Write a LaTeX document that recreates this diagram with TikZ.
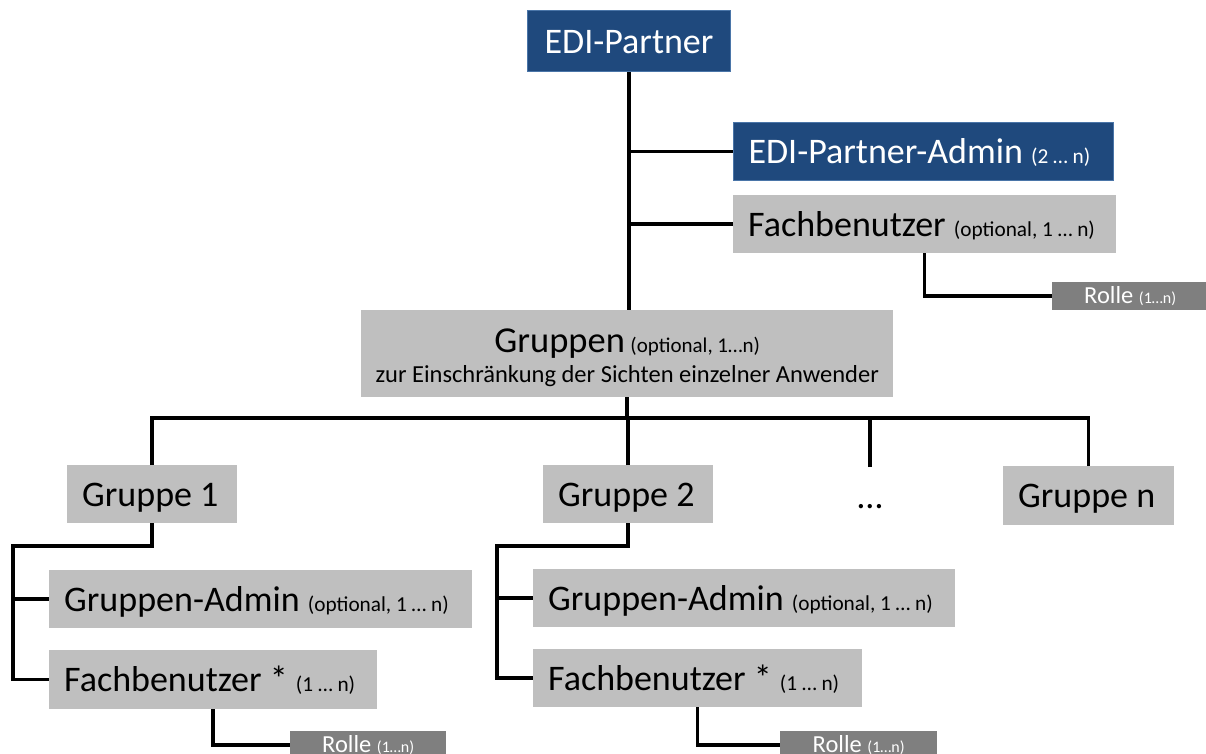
\documentclass[tikz,border=0pt]{standalone}
\usepackage{fontspec}
\setmainfont{Carlito}
\definecolor{ediblue}{HTML}{1F497D}
\definecolor{edirand}{HTML}{4A75A8}
\definecolor{boxgrey}{HTML}{BFBFBF}
\definecolor{rolegrey}{HTML}{7F7F7F}
\newcommand{\anz}[1]{{\fontsize{21.3}{23}\selectfont #1}}
\newcommand{\rollanz}[1]{{\fontsize{16}{18}\selectfont #1}}
\tikzset{
    conn/.style={line width=3.5pt, black},
    box/.style={anchor=north west, inner xsep=15pt, inner ysep=0pt,
        text height=28pt, text depth=4pt,
        font=\fontsize{36}{40}\selectfont, align=flush left},
    bluebox/.style={box, fill=ediblue, draw=edirand, line width=1pt, text=white},
    greybox/.style={box, fill=boxgrey},
    rolebox/.style={anchor=north west, fill=rolegrey, text=white, inner sep=0pt,
        text height=17pt, text depth=3pt,
        minimum width=156pt, minimum height=28pt, font=\fontsize{24.5}{26}\selectfont},
}
\begin{document}
\begin{tikzpicture}[x=1pt, y=-1pt]
    \useasboundingbox (0,0) rectangle (1206,753);

    % EDI-Partner
    \node[bluebox, text width=173pt, align=flush center, minimum height=61pt] (partner) at (527,10) {EDI-Partner};
    \node[bluebox, text width=350pt, minimum height=58pt] (admin) at (733,122) {\mbox{EDI-Partner-Admin \anz{(2 … n)}}};
    \node[greybox, text width=353pt, minimum height=58pt] (fach) at (733,195) {\mbox{Fachbenutzer \anz{(optional, 1 … n)}}};
    \node[rolebox] (rolle) at (1052,282) {Rolle \rollanz{(1…n)}};

    \draw[conn] (partner.south |- admin.west) -- (admin.west);
    \draw[conn] (partner.south |- fach.west) -- (fach.west);
    \draw[conn] (fach.south) |- (rolle.west);

    % Gruppen
    \node[anchor=north west, fill=boxgrey, inner xsep=5pt, inner ysep=0pt, text width=522pt,
        align=flush center, minimum height=87pt, font=\fontsize{24.5}{30}\selectfont] (gruppen) at (361,310)
        {\mbox{\rule{0pt}{31pt}{\fontsize{36.5}{40}\selectfont Gruppen} {\fontsize{21}{23}\selectfont (optional, 1…n)}}\\
        \mbox{zur Einschränkung der Sichten einzelner Anwender}};
    \draw[conn] (partner.south) -- (partner.south |- gruppen.north);

    \node[greybox, text width=140pt, minimum height=58pt] (gruppe1) at (67,465) {\mbox{Gruppe 1}};
    \node[greybox, text width=140pt, minimum height=58pt] (gruppe2) at (543,465) {\mbox{Gruppe 2}};
    \node[anchor=north, inner sep=0pt, minimum height=58pt, text height=28pt, text depth=4pt,
        font=\fontsize{36}{40}\selectfont] (dots) at (870,467) {…};
    \node[greybox, text width=141pt, minimum height=59pt] (gruppeN) at (1003,466) {\mbox{Gruppe n}};

    \coordinate (bus) at (628,418);
    \draw[conn] (gruppen.south) -- (gruppen.south |- bus);
    \draw[conn] (gruppe1.north) |- (bus) -| (gruppeN.north);
    \draw[conn] (gruppe2.north) -- (gruppe2.north |- bus);
    \draw[conn] (dots.north) -- (dots.north |- bus);

    % Gruppe 1
    \node[greybox, text width=393pt, minimum height=58pt] (admin1) at (49,570) {\mbox{Gruppen-Admin \anz{(optional, 1 … n)}}};
    \node[greybox, text width=298pt, minimum height=59pt] (fach1) at (49,650) {\mbox{Fachbenutzer * \anz{(1 … n)}}};
    \node[rolebox] (rolle1) at (290,731) {Rolle \rollanz{(1…n)}};

    \coordinate (knee1) at (13,546);
    \draw[conn] (gruppe1.south) |- (knee1) |- (fach1.west);
    \draw[conn] (knee1 |- admin1.west) -- (admin1.west);
    \draw[conn] (fach1.south) |- (rolle1.west);

    % Gruppe 2
    \node[greybox, text width=392pt, minimum height=58pt] (admin2) at (533,569) {\mbox{Gruppen-Admin \anz{(optional, 1 … n)}}};
    \node[greybox, text width=299pt, minimum height=58pt] (fach2) at (533,649) {\mbox{Fachbenutzer * \anz{(1 … n)}}};
    \node[rolebox, minimum width=157pt] (rolle2) at (780,731) {Rolle \rollanz{(1…n)}};

    \coordinate (knee2) at (497,546);
    \draw[conn] (gruppe2.south) |- (knee2) |- (fach2.west);
    \draw[conn] (knee2 |- admin2.west) -- (admin2.west);
    \draw[conn] (fach2.south) |- (rolle2.west);
\end{tikzpicture}
\end{document}
